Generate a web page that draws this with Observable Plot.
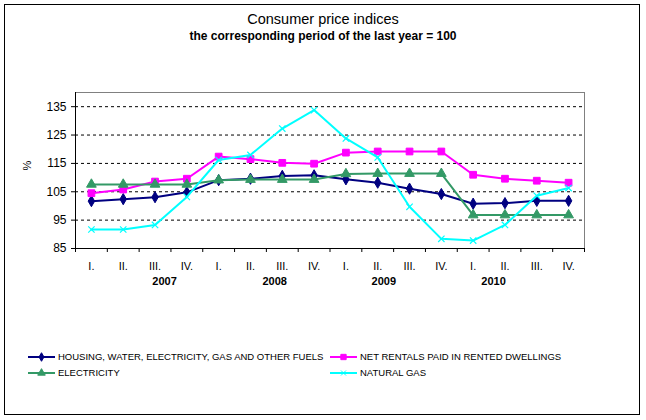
<!DOCTYPE html>
<html>
<head>
<meta charset="utf-8">
<script src="https://cdn.jsdelivr.net/npm/d3@7"></script>
<script src="https://cdn.jsdelivr.net/npm/@observablehq/plot@0.6"></script>
<style>
  body { margin: 0; background: #fff; }
  #wrap { position: relative; width: 646px; height: 420px; font-family: Arial, "Liberation Sans", sans-serif; background: #fff; overflow: hidden; }
  #border { position: absolute; left: 4px; top: 4px; width: 634px; height: 409px; border: 1px solid #000; }
  .t { position: absolute; left: 0; width: 646px; text-align: center; line-height: 1; color: #000; white-space: nowrap; }
  #chart { position: absolute; left: 0; top: 0; }
  .leg { position: absolute; font-size: 9.5px; line-height: 1; display: flex; align-items: center; white-space: nowrap; }
  .leg svg { margin-right: 3px; }
</style>
</head>
<body>
<div id="wrap">
  <div id="border"></div>
  <div id="chart"></div>
  <div class="t" style="top:12px;font-size:14.5px;">Consumer price indices</div>
  <div class="t" style="top:30px;font-size:12px;font-weight:bold;">the corresponding period of the last year = 100</div>
  <div id="legend"></div>
</div>
<script>
const quarters = ["I.","II.","III.","IV.","I.","II.","III.","IV.","I.","II.","III.","IV.","I.","II.","III.","IV."];
const years = ["2007","2008","2009","2010"];
const yearPos = [2.8, 6.26, 9.69, 13.14];
const yTicks = [85, 95, 105, 115, 125, 135];
const housing = [101.7,102.4,103.1,104.8,109.1,109.6,110.6,110.8,109.4,108.2,106.1,104.2,100.8,101.0,101.8,101.8];
const rentals = [104.5,105.8,108.6,109.6,117.4,116.5,115.2,114.9,118.8,119.2,119.2,119.2,111.0,109.6,108.9,108.2];
const electricity = [107.6,107.6,107.6,107.6,109.1,109.3,109.3,109.3,111.3,111.4,111.4,111.4,96.8,96.8,96.8,96.8];
const naturalGas = [91.7,91.7,93.3,103.2,116.2,118.0,127.3,133.8,123.8,117.1,99.7,88.4,87.8,93.3,103.6,106.3];

const seriesDefs = [
  {name: "HOUSING, WATER, ELECTRICITY, GAS AND OTHER FUELS", values: housing, color: "#000080", symbol: "diamond", r: 3.4, lr: 2.6, filled: true},
  {name: "NET RENTALS PAID IN RENTED DWELLINGS", values: rentals, color: "#FF00FF", symbol: "square", r: 3.8, lr: 3, filled: true},
  {name: "ELECTRICITY", values: electricity, color: "#339966", symbol: "triangle", r: 3.6, lr: 2.8, filled: true},
  {name: "NATURAL GAS", values: naturalGas, color: "#00FFFF", symbol: "times", r: 3, lr: 2.4, filled: false}
];
const rows = s => s.values.map((v, i) => ({i: i + 0.5, v}));

const marks = [
  Plot.gridY(yTicks.filter(d => d > 85), {stroke: "#000", strokeOpacity: 1, strokeDasharray: "3,3"}),
  Plot.ruleY([140], {stroke: "#808080"}),
  Plot.ruleX([16], {stroke: "#808080"}),
  Plot.axisY({ticks: yTicks, tickSize: 4, tickPadding: 5, fontSize: 12, label: null, tickFormat: d => String(d)}),
  Plot.axisX({ticks: d3.range(0, 17), tickSize: 4, tickFormat: () => "", label: null}),
  Plot.ruleX([0], {stroke: "#000"}),
  Plot.ruleY([85], {stroke: "#000"}),
  Plot.text(quarters, {x: (d, i) => i + 0.5, frameAnchor: "bottom", dy: 21, fontSize: 11, text: d => d, fill: "#000"}),
  Plot.text(years, {x: (d, i) => yearPos[i], frameAnchor: "bottom", dy: 36, fontSize: 11, fontWeight: "bold", text: d => d, fill: "#000"}),
  Plot.text(["%"], {frameAnchor: "left", dx: -48, rotate: -90, fontSize: 11, text: d => d, fill: "#000"})
];
for (const s of seriesDefs) {
  marks.push(Plot.line(rows(s), {x: "i", y: "v", stroke: s.color, strokeWidth: 2}));
  marks.push(Plot.dot(rows(s), s.filled
    ? {x: "i", y: "v", symbol: s.symbol, r: s.r, fill: s.color, stroke: s.color, strokeWidth: 1}
    : {x: "i", y: "v", symbol: s.symbol, r: s.r, stroke: s.color, strokeWidth: 1.2}));
}

const chart = Plot.plot({
  width: 646,
  height: 300,
  marginLeft: 75,
  marginRight: 62,
  marginTop: 92,
  marginBottom: 52,
  x: {type: "linear", domain: [0, 16], axis: null},
  y: {domain: [85, 140], axis: null},
  style: {fontFamily: "Arial, 'Liberation Sans', sans-serif", color: "#000", background: "transparent", overflow: "visible"},
  marks
});
document.getElementById("chart").appendChild(chart);

// legend
const legendPos = [[28, 352], [330, 352], [28, 368], [330, 368]];
const legend = document.getElementById("legend");
const symMap = {diamond: d3.symbolDiamond, square: d3.symbolSquare, triangle: d3.symbolTriangle, times: d3.symbolTimes};
seriesDefs.forEach((s, k) => {
  const div = document.createElement("div");
  div.className = "leg";
  div.style.left = legendPos[k][0] + "px";
  div.style.top = legendPos[k][1] + "px";
  const path = d3.symbol(symMap[s.symbol], Math.PI * s.lr * s.lr)();
  const svg = `<svg width="27" height="10" style="overflow:visible"><line x1="0" x2="27" y1="5" y2="5" stroke="${s.color}" stroke-width="2"/><path transform="translate(13.5,5)" d="${path}" fill="${s.filled ? s.color : "none"}" stroke="${s.color}" stroke-width="1"/></svg>`;
  div.innerHTML = svg + `<span>${s.name}</span>`;
  legend.appendChild(div);
});
</script>
</body>
</html>
